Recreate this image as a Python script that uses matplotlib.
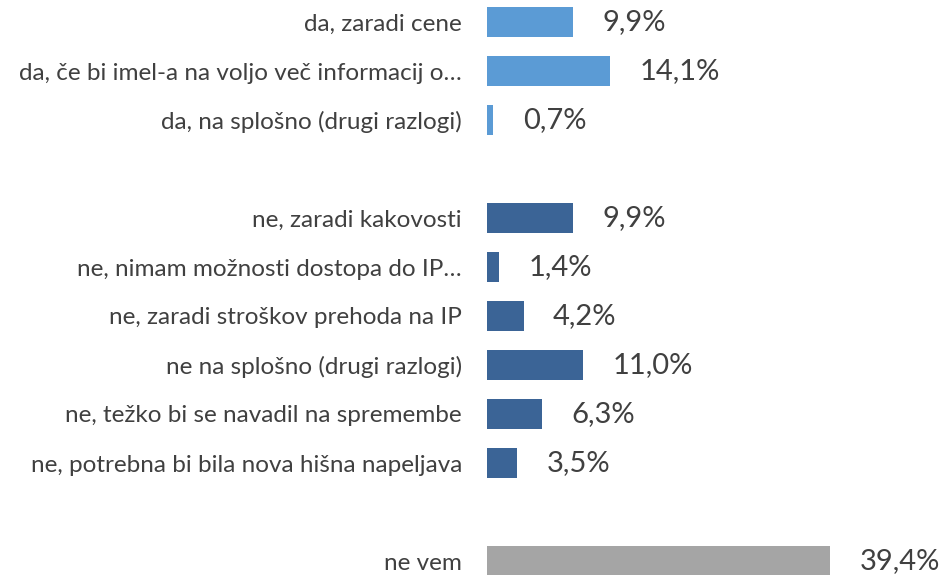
import matplotlib.pyplot as plt

# rows top to bottom, None marks the empty gap rows
labels = [
    'da, zaradi cene',
    'da, če bi imel-a na voljo več informacij o…',
    'da, na splošno (drugi razlogi)',
    '',
    'ne, zaradi kakovosti',
    'ne, nimam možnosti dostopa do IP…',
    'ne, zaradi stroškov prehoda na IP',
    'ne na splošno (drugi razlogi)',
    'ne, težko bi se navadil na spremembe',
    'ne, potrebna bi bila nova hišna napeljava',
    '',
    'ne vem',
]
values = [9.9, 14.1, 0.7, None, 9.9, 1.4, 4.2, 11.0, 6.3, 3.5, None, 39.4]
groups = ['da', 'da', 'da', None, 'ne', 'ne', 'ne', 'ne', 'ne', 'ne', None, 'nevem']

colors = {'da': '#5B9BD5', 'ne': '#3B6496', 'nevem': '#A5A5A5'}
txt = '#404040'

plt.rcParams['font.family'] = ['Lato', 'DejaVu Sans']

fig = plt.figure(figsize=(9.46, 5.75), dpi=100)
ax = fig.add_axes([487 / 946, 0, 1 - 487 / 946, 1])

for i, (v, g) in enumerate(zip(values, groups)):
    if v is None:
        continue
    ax.barh(i, v, height=0.62, color=colors[g])
    ax.text(v + 3.4, i, f'{v:.1f}%'.replace('.', ','), va='center', ha='left',
            fontsize=21, color=txt)

ax.set_xlim(0, 459 / 8.706)
ax.set_ylim((575 - 22) / 49, -22 / 49)
ax.set_yticks(range(len(labels)))
ax.set_yticklabels(labels, fontsize=17.5, color=txt)
ax.tick_params(axis='y', length=0, pad=18)
ax.set_xticks([])
for s in ax.spines.values():
    s.set_visible(False)

fig.savefig('out.png', dpi=100)
